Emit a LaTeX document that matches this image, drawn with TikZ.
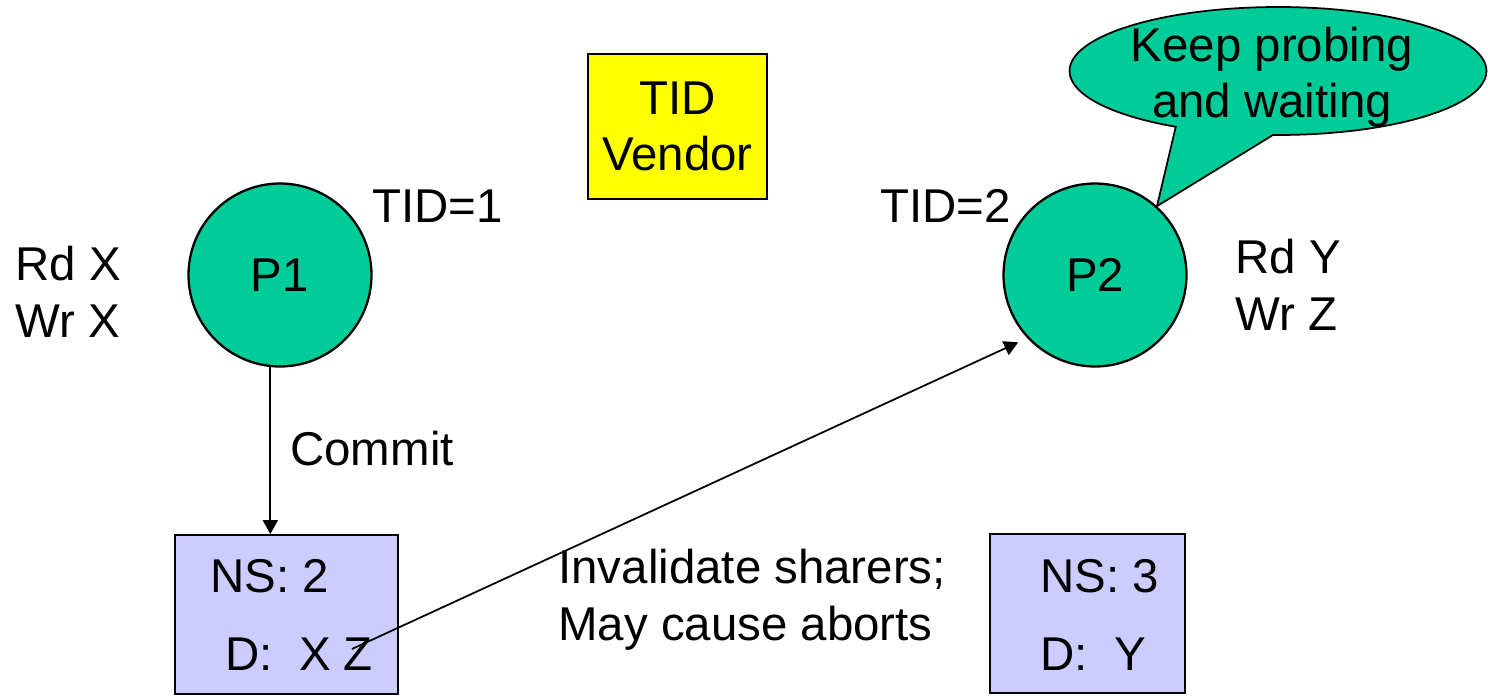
\documentclass[tikz,border=0pt]{standalone}
\usepackage{fontspec}
\setmainfont{Liberation Sans}
\usetikzlibrary{arrows.meta,shapes.callouts}

\definecolor{procgreen}{HTML}{00CC99}
\definecolor{vendoryellow}{HTML}{FFFF00}
\definecolor{dirblue}{HTML}{CCCCFF}

\begin{document}
\begin{tikzpicture}[x=0.02cm,y=-0.02cm,
    font=\fontsize{27}{32}\selectfont,
    proc/.style={circle,draw,line width=1.3pt,fill=procgreen,minimum size=3.66cm,inner sep=0pt},
    dirbox/.style={draw,line width=1pt,fill=dirblue,minimum height=3.18cm,inner sep=0pt},
    lbl/.style={anchor=base west,inner sep=0pt,align=left},
    arr/.style={-{Triangle[length=0.28cm,width=0.3cm]},line width=1pt}]

  \useasboundingbox (0,0) rectangle (1488,696);

  % processors
  \node[proc] (p1) at (280,275) {P1};
  \node[proc] (p2) at (1095,275) {P2};

  % the vendor handing out TIDs
  \node[draw,line width=1pt,fill=vendoryellow,minimum width=3.58cm,minimum height=2.9cm,
        inner sep=0pt,align=center] (vendor) at (677.5,126.5) {TID\\Vendor};

  % directories
  \node[dirbox,minimum width=4.46cm] (dir1) at (286.5,614.5) {};
  \node[dirbox,minimum width=3.9cm] (dir2) at (1087.5,613.5) {};

  \node[lbl] (ns1) at (210,592) {NS: 2};
  \node[lbl] (d1) at (225,670) {D:\ \ X Z};
  \node[lbl] (ns2) at (1040,592) {NS: 3};
  \node[lbl] (d2) at (1040,670) {D:\ \ Y};

  % read and write sets, TIDs (base is the last line)
  \node[lbl] (ops1) at (15,337) {Rd X\\Wr X};
  \node[lbl] (ops2) at (1235,330) {Rd Y\\Wr Z};
  \node[lbl] (tid1) at (372,222) {TID=1};
  \node[lbl] (tid2) at (880,222) {TID=2};

  % commit and invalidation
  \draw[arr] (p1.264) -- (p1.264 |- dir1.north);
  \node[lbl] (commit) at (290,465) {Commit};

  \coordinate (zmark) at (352,649);
  \draw[arr,shorten >=0.2cm] (zmark) -- (p2.223);
  \node[lbl] (inval) at (558,640) {Invalidate sharers;\\May cause aborts};

  % P2 keeps waiting
  \node[ellipse callout,draw,line width=1pt,fill=procgreen,minimum width=8.34cm,
        minimum height=2.56cm,callout absolute pointer={(p2.48)},callout pointer arc=28]
        (note) at (1278,71) {};
  \node[align=center,inner sep=0pt,anchor=base] (notetext) at (1272,118)
        {Keep probing\\and waiting};

\end{tikzpicture}
\end{document}
